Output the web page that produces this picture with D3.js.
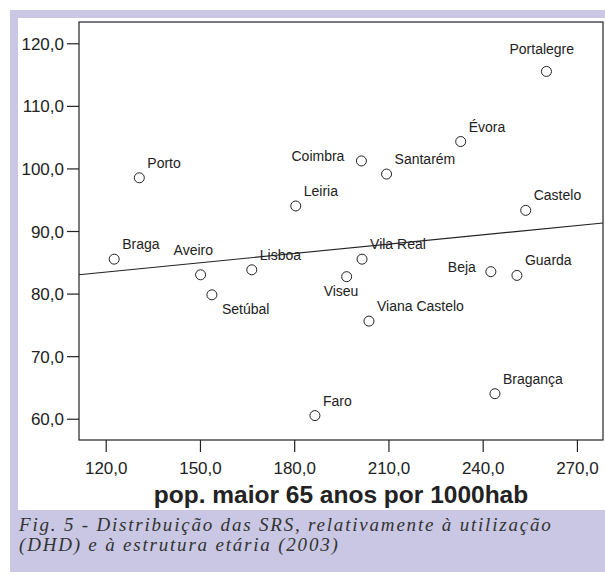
<!DOCTYPE html>
<html>
<head>
<meta charset="utf-8">
<script src="https://cdn.jsdelivr.net/npm/d3@7"></script>
<style>
  body { margin: 0; background: #ffffff; }
</style>
</head>
<body>
<script>
// SRS regions
let regions = ["Portalegre", "Évora", "Coimbra", "Santarém", "Porto", "Leiria", "Castelo",
  "Braga", "Vila Real", "Lisboa", "Beja", "Aveiro", "Guarda", "Viseu", "Setúbal",
  "Viana Castelo", "Faro", "Bragança"];
// pop. maior 65 anos por 1000hab
let popOver65 = [260.3, 233.0, 201.4, 209.4, 130.7, 180.5, 253.7,
  122.7, 201.6, 166.5, 242.6, 150.2, 250.9, 196.7, 153.8,
  203.8, 186.6, 243.9];
// utilizacao (DHD)
let dhd = [115.5, 104.3, 101.2, 99.1, 98.5, 94.0, 93.3,
  85.5, 85.5, 83.8, 83.5, 83.0, 82.9, 82.7, 79.8,
  75.6, 60.5, 64.0];
let xTicks = [120, 150, 180, 210, 240, 270];
let yTicks = [60, 70, 80, 90, 100, 110, 120];
let xTitle = "pop. maior 65 anos por 1000hab";
let captionLines = ["Fig. 5 - Distribuição das SRS, relativamente à utilização",
  "(DHD) e à estrutura etária (2003)"];

// label placement (offset from point), default is up-right
let labelPlace = {
  "Portalegre": [-37, -17, "start"],
  "Coimbra": [-17, 0, "end"],
  "Aveiro": [-27, -20, "start"],
  "Viseu": [-23, 19, "start"],
  "Setúbal": [10, 19, "start"],
  "Beja": [-15, 0, "end"]
};

let width = 605;
let height = 575;
let lavender = "#c9c7e3";
let ink = "#222222";

let svg = d3.select("body").append("svg").attr("width", width).attr("height", height);

svg.append("rect").attr("x", 10).attr("y", 10).attr("width", width - 10).attr("height", 562)
  .attr("fill", lavender);
svg.append("rect").attr("x", 18).attr("y", 18).attr("width", width - 18).attr("height", 492)
  .attr("fill", "#ffffff");

let plotL = 79, plotR = 603, plotT = 22, plotB = 440;

let x = d3.scaleLinear().domain([111.5, 278.3]).range([plotL, plotR]);
let y = d3.scaleLinear().domain([56.6, 123.4]).range([plotB, plotT]);

let fmt = d => d3.format(".1f")(d).replace(".", ",");

// frame
svg.append("rect").attr("x", plotL).attr("y", plotT).attr("width", plotR - plotL).attr("height", plotB - plotT)
  .attr("fill", "none").attr("stroke", ink).attr("stroke-width", 1.2);

let xAxis = svg.append("g").attr("transform", `translate(0,${plotB})`)
  .call(d3.axisBottom(x).tickValues(xTicks).tickFormat(fmt).tickSize(12).tickPadding(10));
let yAxis = svg.append("g").attr("transform", `translate(${plotL},0)`)
  .call(d3.axisLeft(y).tickValues(yTicks).tickFormat(fmt).tickSize(12).tickPadding(3));
[xAxis, yAxis].forEach(g => {
  g.select(".domain").remove();
  g.selectAll("line").attr("stroke", ink).attr("stroke-width", 1.2);
  g.selectAll("text").attr("fill", ink).style("font-family", "Liberation Sans, Arial, sans-serif")
    .style("font-size", "17px");
});
yAxis.selectAll("text").attr("dy", "0.36em");

// regression line (least squares)
let mx = d3.mean(popOver65), my = d3.mean(dhd);
let sxy = d3.sum(popOver65, (v, i) => (v - mx) * (dhd[i] - my));
let sxx = d3.sum(popOver65, v => (v - mx) * (v - mx));
let slope = sxy / sxx;
let icpt = my - slope * mx;
let xd = x.domain();
svg.append("line")
  .attr("x1", x(xd[0])).attr("y1", y(icpt + slope * xd[0]))
  .attr("x2", x(xd[1])).attr("y2", y(icpt + slope * xd[1]))
  .attr("stroke", ink).attr("stroke-width", 1.1);

let pts = regions.map((r, i) => ({ name: r, px: popOver65[i], py: dhd[i] }));

svg.selectAll("circle.pt").data(pts).enter().append("circle")
  .attr("class", "pt")
  .attr("cx", d => x(d.px)).attr("cy", d => y(d.py)).attr("r", 5)
  .attr("fill", "none").attr("stroke", ink).attr("stroke-width", 1);

svg.selectAll("text.lbl").data(pts).enter().append("text")
  .attr("class", "lbl")
  .attr("x", d => x(d.px) + (labelPlace[d.name] ? labelPlace[d.name][0] : 8))
  .attr("y", d => y(d.py) + (labelPlace[d.name] ? labelPlace[d.name][1] : -10))
  .attr("text-anchor", d => labelPlace[d.name] ? labelPlace[d.name][2] : "start")
  .attr("fill", ink)
  .style("font-family", "Liberation Sans, Arial, sans-serif")
  .style("font-size", "14px")
  .text(d => d.name);

svg.append("text")
  .attr("x", 341).attr("y", 503)
  .attr("text-anchor", "middle")
  .attr("fill", ink)
  .style("font-family", "Liberation Sans, Arial, sans-serif")
  .style("font-size", "24.5px").style("font-weight", "bold")
  .text(xTitle);

svg.selectAll("text.cap").data(captionLines).enter().append("text")
  .attr("class", "cap")
  .attr("x", 19).attr("y", (d, i) => 531 + i * 20)
  .attr("fill", "#333333")
  .style("font-family", "Liberation Serif, Times New Roman, serif")
  .style("font-style", "italic")
  .style("font-size", "19px")
  .style("letter-spacing", "1.8px")
  .text(d => d);
</script>
</body>
</html>
